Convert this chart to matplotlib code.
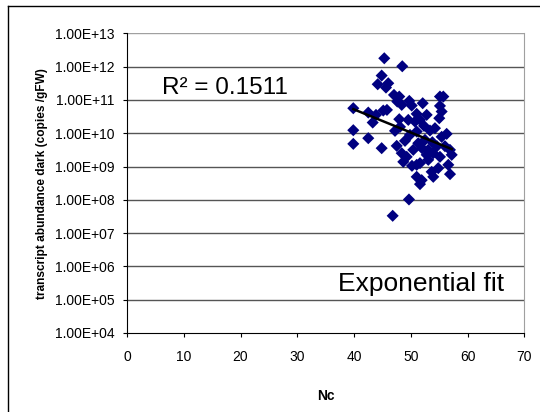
import numpy as np
import matplotlib
matplotlib.use("Agg")
import matplotlib.pyplot as plt
from matplotlib.lines import Line2D

plt.rcParams['font.family'] = ['Liberation Sans', 'DejaVu Sans']

# Data: Nc vs log10(transcript abundance)
nc = [45.33, 48.5, 44.87, 44.17, 46.03, 45.63, 47.04, 47.97, 47.62, 48.40,
      49.74, 50.16, 52.10, 55.14, 55.73, 39.87, 45.15, 42.51, 43.87, 43.29,
      47.97, 49.56, 51.04, 52.80, 55.44, 55.02, 50.74, 51.62, 39.87, 42.51,
      44.87, 39.87, 47.52, 51.04, 53.38, 54.26, 56.32, 55.44, 48.40, 49.28,
      48.68, 50.44, 51.32, 52.50, 53.08, 52.80, 53.96, 55.14, 57.21, 51.04,
      51.62, 53.08, 54.84, 56.61, 53.68, 53.96, 56.91, 51.04, 51.92, 51.62,
      49.68, 46.81, 49.86, 48.98, 47.22, 51.97, 54.61, 50.21, 56.02, 48.10,
      52.33, 55.14, 53.80, 45.80, 56.90]
log_abund = [12.25, 12.01, 11.73, 11.47, 11.50, 11.37, 11.15, 11.10, 10.95, 10.85,
             10.97, 10.83, 10.90, 11.10, 11.10, 10.75, 10.68, 10.62, 10.55, 10.32,
             10.42, 10.40, 10.58, 10.55, 10.65, 10.45, 10.35, 10.40, 10.09, 9.85,
             9.55, 9.68, 9.62, 10.05, 10.08, 10.15, 9.98, 9.89, 9.40, 9.29,
             9.14, 9.50, 9.70, 9.80, 9.50, 9.35, 9.40, 9.29, 9.35, 9.05,
             9.10, 9.20, 8.95, 9.05, 8.84, 8.69, 8.77, 8.69, 8.59, 8.47,
             8.01, 7.52, 9.95, 9.77, 10.07, 9.55, 9.61, 9.02, 9.61, 10.19,
             10.22, 10.82, 9.73, 10.70, 9.50]
abund = [10 ** v for v in log_abund]

y_ticks = [1e4, 1e5, 1e6, 1e7, 1e8, 1e9, 1e10, 1e11, 1e12, 1e13]
y_tick_labels = ["1.00E+04", "1.00E+05", "1.00E+06", "1.00E+07", "1.00E+08",
                 "1.00E+09", "1.00E+10", "1.00E+11", "1.00E+12", "1.00E+13"]
x_ticks = [0, 10, 20, 30, 40, 50, 60, 70]

W, H = 540, 412
fig = plt.figure(figsize=(5.4, 4.12), dpi=100)
ax = fig.add_axes([127 / W, 1 - 333 / H, (524.3 - 127) / W, (333 - 33.3) / H])

ax.set_yscale('log')
ax.set_xlim(0, 70)
ax.set_ylim(1e4, 1e13)
ax.set_yticks(y_ticks)
ax.set_yticklabels(y_tick_labels)
ax.yaxis.set_minor_locator(matplotlib.ticker.NullLocator())
ax.set_xticks(x_ticks)

for t in y_ticks[1:]:
    ax.axhline(t, color='#555555' if t < 1e13 else '#a0a0a0', lw=1.0, zorder=1)

ax.scatter(nc, abund, marker='D', s=38, color='#000080', edgecolors='none', zorder=3)

# exponential fit
x = np.array(nc)
ly = np.array(log_abund)
b, a = np.polyfit(x, ly, 1)
xf = np.array([x.min(), x.max()])
ax.plot(xf, 10 ** (a + b * xf), color='black', lw=1.8, zorder=4)

fig.text(162 / W, 1 - 88 / H, "R² = 0.1511", fontsize=17.5, va='center', ha='left')
fig.text(338 / W, 1 - 284 / H, "Exponential fit", fontsize=19, va='center', ha='left')

ax.spines['top'].set_visible(False)
ax.spines['right'].set_color('#a0a0a0')
ax.spines['left'].set_color('black')
ax.spines['bottom'].set_color('black')
ax.tick_params(axis='both', direction='out', length=3, labelsize=10, width=0.8)
ax.tick_params(axis='y', pad=6)
ax.tick_params(axis='x', pad=9)
ax.set_xlabel("Nc", fontsize=10, fontweight='bold', labelpad=18)
ax.set_ylabel("transcript abundance dark (copies /gFW)", fontsize=8.6, fontweight='bold', labelpad=5)

# outer frame (left and top edges)
fig.add_artist(Line2D([8 / W, 8 / W], [1 - 6 / H, 0], transform=fig.transFigure, color='black', lw=1))
fig.add_artist(Line2D([8 / W, 1], [1 - 6 / H, 1 - 6 / H], transform=fig.transFigure, color='black', lw=1))

fig.savefig("out.png", dpi=100)
